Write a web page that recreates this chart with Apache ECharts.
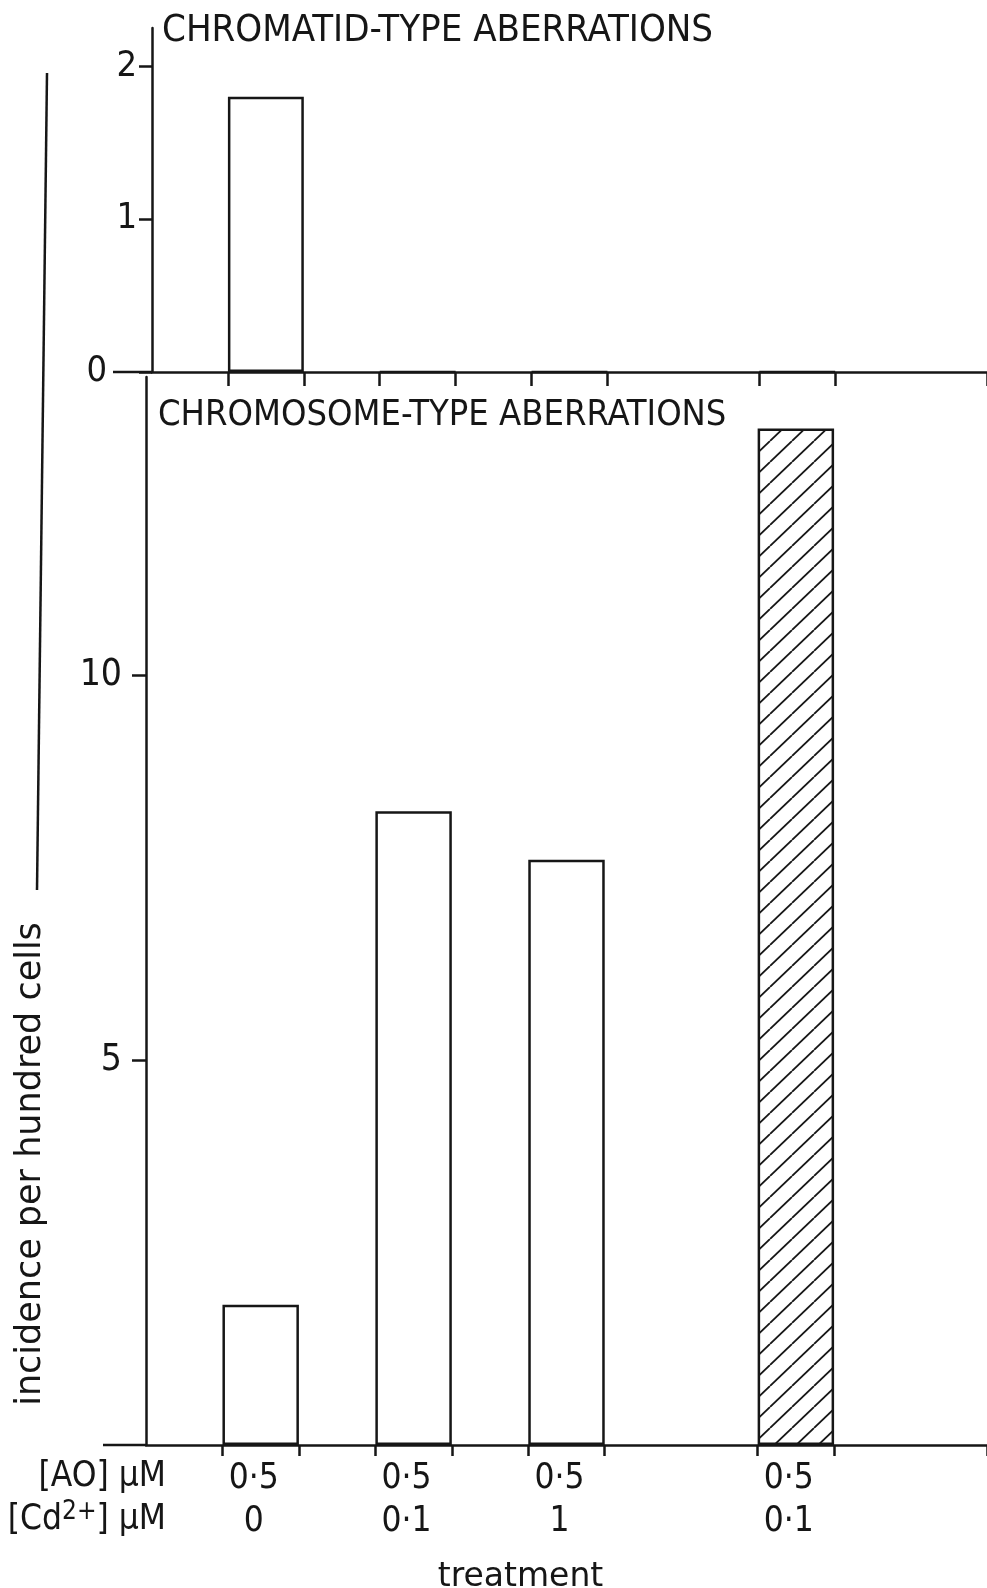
<!DOCTYPE html>
<html>
<head>
<meta charset="utf-8">
<script src="https://cdn.jsdelivr.net/npm/echarts@6/dist/echarts.min.js"></script>
<style>
html,body{margin:0;padding:0;background:#ffffff;overflow:hidden;}
#chart{width:987px;height:1588px;}
</style>
</head>
<body>
<div id="chart"></div>
<script>
// ---------------- data ----------------
const treatments = ['A', 'B', 'C', 'D'];
const aoConc = ['0·5', '0·5', '0·5', '0·5'];
const cdConc = ['0', '0·1', '1', '0·1'];
const chromatidValues = [1.8, 0, 0, 0];
const chromosomeValues = [1.82, 8.23, 7.6, 13.2];
const hatchedBars = [false, false, false, true];
const chromatidTicks = [0, 1, 2];
const chromosomeTicks = [5, 10];
const panelTitles = ['CHROMATID-TYPE ABERRATIONS', 'CHROMOSOME-TYPE ABERRATIONS'];
const yAxisTitle = 'incidence per hundred cells';
const xAxisTitle = 'treatment';
const rowHeaders = ['[AO] μM', '[Cd{sup|2+}] μM'];

// ---------------- layout ----------------
const SLOT_COUNT = 11;
const barSlots = [1, 3, 5, 8];
const INK = '#161616';
const NARROW = '"Liberation Sans Narrow", "DejaVu Sans Condensed", "Liberation Sans", sans-serif';
const WIDE = '"DejaVu Sans", "Liberation Sans", sans-serif';

const TOP = {left: 152, top: 28, bottom: 372};
const BOT = {left: 146, top: 377, bottom: 1445};
const H = 1588;

const slotNames = [];
for (let i = 0; i < SLOT_COUNT; i++) slotNames.push('s' + i);
const slotTreatment = slotNames.map((s, i) => barSlots.indexOf(i));

function makeHatch() {
  const w = 22, h = 21;
  const c = document.createElement('canvas');
  c.width = w; c.height = h;
  const g = c.getContext('2d');
  g.fillStyle = '#ffffff';
  g.fillRect(0, 0, w, h);
  g.strokeStyle = INK;
  g.lineWidth = 1.8;
  for (const dx of [-w, 0, w]) {
    g.beginPath();
    g.moveTo(dx, h);
    g.lineTo(dx + w, 0);
    g.stroke();
  }
  return c;
}
const hatch = makeHatch();

function seriesData(values) {
  return slotTreatment.map(t => {
    if (t < 0) return '-';
    return {
      value: values[t],
      name: treatments[t],
      itemStyle: hatchedBars[t] ? {color: {image: hatch, repeat: 'repeat'}} : undefined
    };
  });
}

function tickShown(index) {
  return slotTreatment[index] >= 0 || (index > 0 && slotTreatment[index - 1] >= 0);
}

const chart = echarts.init(document.getElementById('chart'), null, {renderer: 'canvas'});

const commonX = {
  type: 'category',
  data: slotNames,
  axisLine: {show: true, lineStyle: {color: INK, width: 2.5}},
  splitLine: {show: false}
};

const option = {
  backgroundColor: '#ffffff',
  animation: false,
  title: [
    {
      text: panelTitles[0], left: 162, top: 11, padding: 0,
      textStyle: {fontFamily: NARROW, fontSize: 38, fontWeight: 'normal', color: INK, lineHeight: 40}
    },
    {
      text: panelTitles[1], left: 158, top: 396, padding: 0,
      textStyle: {fontFamily: NARROW, fontSize: 36, fontWeight: 'normal', color: INK, lineHeight: 40}
    }
  ],
  grid: [
    {left: TOP.left, right: 0, top: TOP.top, bottom: H - TOP.bottom, containLabel: false, outerBoundsMode: 'none'},
    {left: BOT.left, right: 0, top: BOT.top, bottom: H - BOT.bottom, containLabel: false, outerBoundsMode: 'none'}
  ],
  xAxis: [
    Object.assign({}, commonX, {
      gridIndex: 0,
      axisTick: {show: true, interval: tickShown, length: 14, lineStyle: {color: INK, width: 2.5}},
      axisLabel: {show: false}
    }),
    Object.assign({}, commonX, {
      gridIndex: 1,
      axisTick: {show: true, interval: tickShown, length: 11, lineStyle: {color: INK, width: 2.5}},
      axisLabel: {
        show: true,
        interval: 0,
        margin: 12,
        fontFamily: NARROW,
        fontSize: 35,
        lineHeight: 43,
        color: INK,
        padding: [0, 14, 0, 0],
        formatter: function (v, i) {
          const t = slotTreatment[i];
          return t < 0 ? '' : aoConc[t] + '\n' + cdConc[t];
        }
      },
      name: xAxisTitle,
      nameLocation: 'middle',
      nameGap: 116,
      nameTextStyle: {fontFamily: WIDE, fontSize: 33, color: INK, padding: [0, 92, 0, 0]}
    })
  ],
  yAxis: [
    {
      type: 'value', gridIndex: 0, min: 0, max: 2.25,
      axisLine: {show: true, lineStyle: {color: INK, width: 2.5}},
      splitLine: {show: false},
      axisTick: {show: true, customValues: chromatidTicks, length: 13, lineStyle: {color: INK, width: 2.5}},
      axisLabel: {
        show: true, customValues: chromatidTicks, margin: 15,
        fontFamily: NARROW, fontSize: 36, color: INK,
        formatter: v => v === 0 ? '{z|0}' : String(v),
        rich: {z: {fontFamily: NARROW, fontSize: 36, color: INK, padding: [0, 30, 0, 0]}}
      }
    },
    {
      type: 'value', gridIndex: 1, min: 0, max: 13.87,
      axisLine: {show: true, lineStyle: {color: INK, width: 2.5}},
      splitLine: {show: false},
      axisTick: {show: true, customValues: chromosomeTicks, length: 14, lineStyle: {color: INK, width: 2.5}},
      axisLabel: {
        show: true, customValues: chromosomeTicks, margin: 24,
        fontFamily: NARROW, fontSize: 37, color: INK
      }
    }
  ],
  series: [
    {
      type: 'bar', xAxisIndex: 0, yAxisIndex: 0,
      data: seriesData(chromatidValues),
      barWidth: '100%', barCategoryGap: '0%',
      itemStyle: {color: '#ffffff', borderColor: INK, borderWidth: 2.5},
      z: 3
    },
    {
      type: 'bar', xAxisIndex: 1, yAxisIndex: 1,
      data: seriesData(chromosomeValues),
      barWidth: '100%', barCategoryGap: '0%',
      itemStyle: {color: '#ffffff', borderColor: INK, borderWidth: 2.5},
      z: 3
    }
  ],
  graphic: [
    {type: 'line', shape: {x1: 113, y1: TOP.bottom, x2: TOP.left, y2: TOP.bottom}, style: {stroke: INK, lineWidth: 2.5}},
    {type: 'line', shape: {x1: 103, y1: BOT.bottom, x2: BOT.left, y2: BOT.bottom}, style: {stroke: INK, lineWidth: 2.5}},
    {type: 'line', shape: {x1: 47, y1: 73, x2: 37, y2: 890}, style: {stroke: INK, lineWidth: 2.5}},
    {
      type: 'text', x: 31, y: 1164, rotation: Math.PI / 2,
      style: {text: yAxisTitle, fontFamily: WIDE, fontSize: 35, fill: INK, align: 'center', verticalAlign: 'middle'}
    },
    {
      type: 'text', x: 166, y: 1477,
      style: {text: rowHeaders[0], fontFamily: NARROW, fontSize: 35, fill: INK, align: 'right', verticalAlign: 'middle'}
    },
    {
      type: 'text', x: 166, y: 1520,
      style: {
        text: rowHeaders[1], fontFamily: NARROW, fontSize: 35, fill: INK, align: 'right', verticalAlign: 'middle',
        rich: {sup: {fontFamily: NARROW, fontSize: 26, fill: INK, padding: [0, 0, 16, 0]}}
      }
    }
  ]
};

chart.setOption(option);
</script>
</body>
</html>
